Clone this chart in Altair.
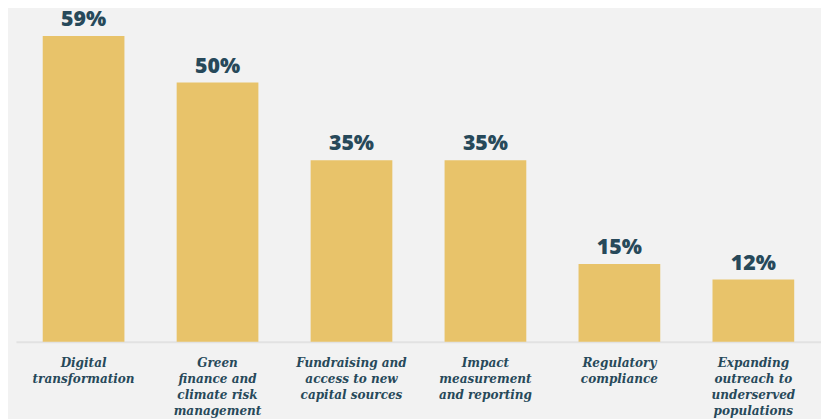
import altair as alt
import pandas as pd

categories = [
    "Digital|transformation",
    "Green|finance and|climate risk|management",
    "Fundraising and|access to new|capital sources",
    "Impact|measurement|and reporting",
    "Regulatory|compliance",
    "Expanding|outreach to|underserved|populations",
]
values = [59, 50, 35, 35, 15, 12]

df = pd.DataFrame({"cat": categories, "val": values})
df["label"] = df["val"].astype(str) + "%"

BAR = "#e8c36a"
TXT = "#27495a"

x = alt.X(
    "cat:N",
    sort=None,
    title=None,
    scale=alt.Scale(paddingInner=0.39, paddingOuter=0.2),
    axis=alt.Axis(
        labelAngle=0,
        labelExpr="split(datum.value, '|')",
        labelFont="DejaVu Serif Condensed",
        labelFontStyle="italic",
        labelFontWeight="bold",
        labelFontSize=13.5,
        labelLineHeight=16,
        labelColor=TXT,
        labelPadding=14,
        labelBaseline="top",
        ticks=False,
        domainColor="#e2e2e2",
        domainWidth=2,
    ),
)
y = alt.Y("val:Q", title=None, scale=alt.Scale(domain=[0, 64]), axis=None)

bars = alt.Chart(df).mark_bar(color=BAR).encode(x=x, y=y)
text = alt.Chart(df).mark_text(
    dy=-10, baseline="alphabetic", font="Open Sans", fontWeight=800, fontSize=21.5, color=TXT
).encode(x=x, y=y, text="label:N")

chart = (
    (bars + text)
    .properties(
        width=813,
        height=335,
        background="#f2f2f2",
        padding={"left": 8, "top": 0, "right": 0, "bottom": 76},
        autosize=alt.AutoSizeParams(type="none"),
    )
    .configure_view(stroke=None)
)

chart.save("out.html", embed_options={"renderer": "svg", "actions": False})
